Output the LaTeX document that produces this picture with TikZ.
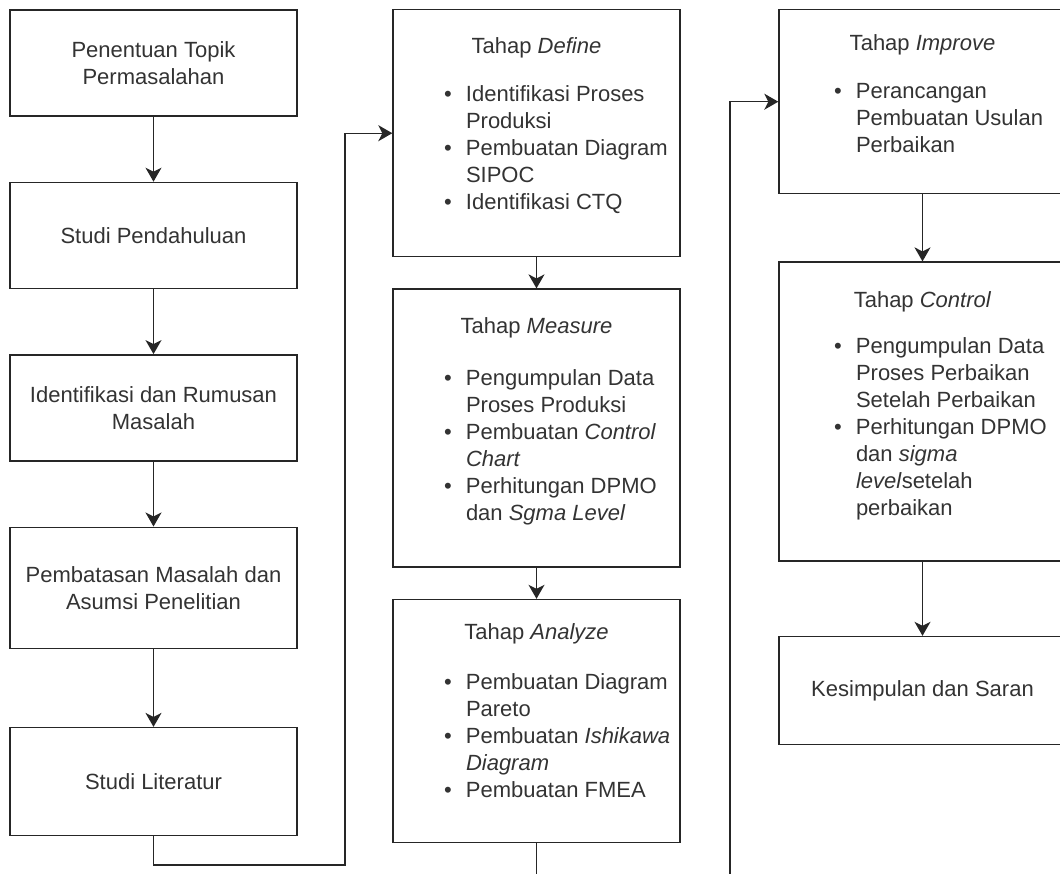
\documentclass[tikz,border=0pt]{standalone}
\usepackage{fontspec}
\setmainfont{Liberation Sans}
\usetikzlibrary{positioning, arrows.meta}

\tikzset{
  box/.style={draw=black!85, line width=1.4pt, rectangle, minimum width=287pt, minimum height=106pt, align=center, text=black!80},
  phase/.style={draw=black!85, line width=1.4pt, rectangle, inner sep=0pt, text=black!80},
  arrow/.style={-{Stealth[length=14pt, width=16pt, inset=4pt]}, line width=1.4pt, draw=black!85}
}

\begin{document}
\begin{tikzpicture}[x=1pt, y=-1pt, font=\fontsize{22}{27}\selectfont]
    \useasboundingbox (0,0) rectangle (1060,873);
    \clip (0,0) rectangle (1060,873);

    % Kolom kiri
    \node[box] (topik) at (153.5,63) {Penentuan Topik\\Permasalahan};
    \node[box, below=65pt of topik] (pendahuluan) {Studi Pendahuluan};
    \node[box, below=65pt of pendahuluan] (rumusan) {Identifikasi dan Rumusan\\Masalah};
    \node[box, minimum height=121pt, below=65pt of rumusan] (batasan) {Pembatasan Masalah dan\\Asumsi Penelitian};
    \node[box, minimum height=108pt, below=78pt of batasan] (literatur) {Studi Literatur};

    % Kolom tengah
    \node[phase, anchor=north] (define) at (536.5,9) {\parbox[c][247pt][t]{287pt}{\centering\rule{0pt}{44pt}Tahap \textit{Define}\par
      \vspace{21pt}\raggedright\hspace*{51pt}\begin{tabular}[t]{@{}p{22pt}@{}l@{}}
        \textbullet & Identifikasi Proses\\
        & Produksi\\
        \textbullet & Pembuatan Diagram\\
        & SIPOC\\
        \textbullet & Identifikasi CTQ
      \end{tabular}\par}};
    \node[phase, below=31pt of define] (measure) {\parbox[c][278pt][t]{287pt}{\centering\rule{0pt}{44pt}Tahap \textit{Measure}\par
      \vspace{25pt}\raggedright\hspace*{51pt}\begin{tabular}[t]{@{}p{22pt}@{}l@{}}
        \textbullet & Pengumpulan Data\\
        & Proses Produksi\\
        \textbullet & Pembuatan \textit{Control}\\
        & \textit{Chart}\\
        \textbullet & Perhitungan DPMO\\
        & dan \textit{Sgma Level}
      \end{tabular}\par}};
    \node[phase, below=31pt of measure] (analyze) {\parbox[c][243pt][t]{287pt}{\centering\rule{0pt}{40pt}Tahap \textit{Analyze}\par
      \vspace{23pt}\raggedright\hspace*{51pt}\begin{tabular}[t]{@{}p{22pt}@{}l@{}}
        \textbullet & Pembuatan Diagram\\
        & Pareto\\
        \textbullet & Pembuatan \textit{Ishikawa}\\
        & \textit{Diagram}\\
        \textbullet & Pembuatan FMEA
      \end{tabular}\par}};

    % Kolom kanan
    \node[phase, anchor=north] (improve) at (922.5,9) {\parbox[c][184pt][t]{287pt}{\centering\rule{0pt}{41pt}Tahap \textit{Improve}\par
      \vspace{21pt}\raggedright\hspace*{55pt}\begin{tabular}[t]{@{}p{22pt}@{}l@{}}
        \textbullet & Perancangan\\
        & Pembuatan Usulan\\
        & Perbaikan
      \end{tabular}\par}};
    \node[phase, below=67pt of improve] (control) {\parbox[c][299pt][t]{287pt}{\centering\rule{0pt}{45pt}Tahap \textit{Control}\par
      \vspace{19pt}\raggedright\hspace*{55pt}\begin{tabular}[t]{@{}p{22pt}@{}l@{}}
        \textbullet & Pengumpulan Data\\
        & Proses Perbaikan\\
        & Setelah Perbaikan\\
        \textbullet & Perhitungan DPMO\\
        & dan \textit{sigma}\\
        & \textit{level}setelah\\
        & perbaikan
      \end{tabular}\par}};
    \node[box, minimum height=108pt, below=74pt of control] (kesimpulan) {Kesimpulan dan Saran};

    % Garis penghubung
    \draw[arrow] (topik) -- (pendahuluan);
    \draw[arrow] (pendahuluan) -- (rumusan);
    \draw[arrow] (rumusan) -- (batasan);
    \draw[arrow] (batasan) -- (literatur);
    \coordinate (belok) at (345,865);
    \draw[arrow] (literatur.south) |- (belok) |- (define.west);
    \draw[arrow] (define) -- (measure);
    \draw[arrow] (measure) -- (analyze);
    \coordinate (keluar) at (536.5,885);
    \draw[line width=1.4pt, draw=black!85] (analyze.south) -- (keluar);
    \coordinate (masuk) at (730,885);
    \draw[arrow] (masuk) |- (improve.west);
    \draw[arrow] (improve) -- (control);
    \draw[arrow] (control) -- (kesimpulan);
\end{tikzpicture}
\end{document}
